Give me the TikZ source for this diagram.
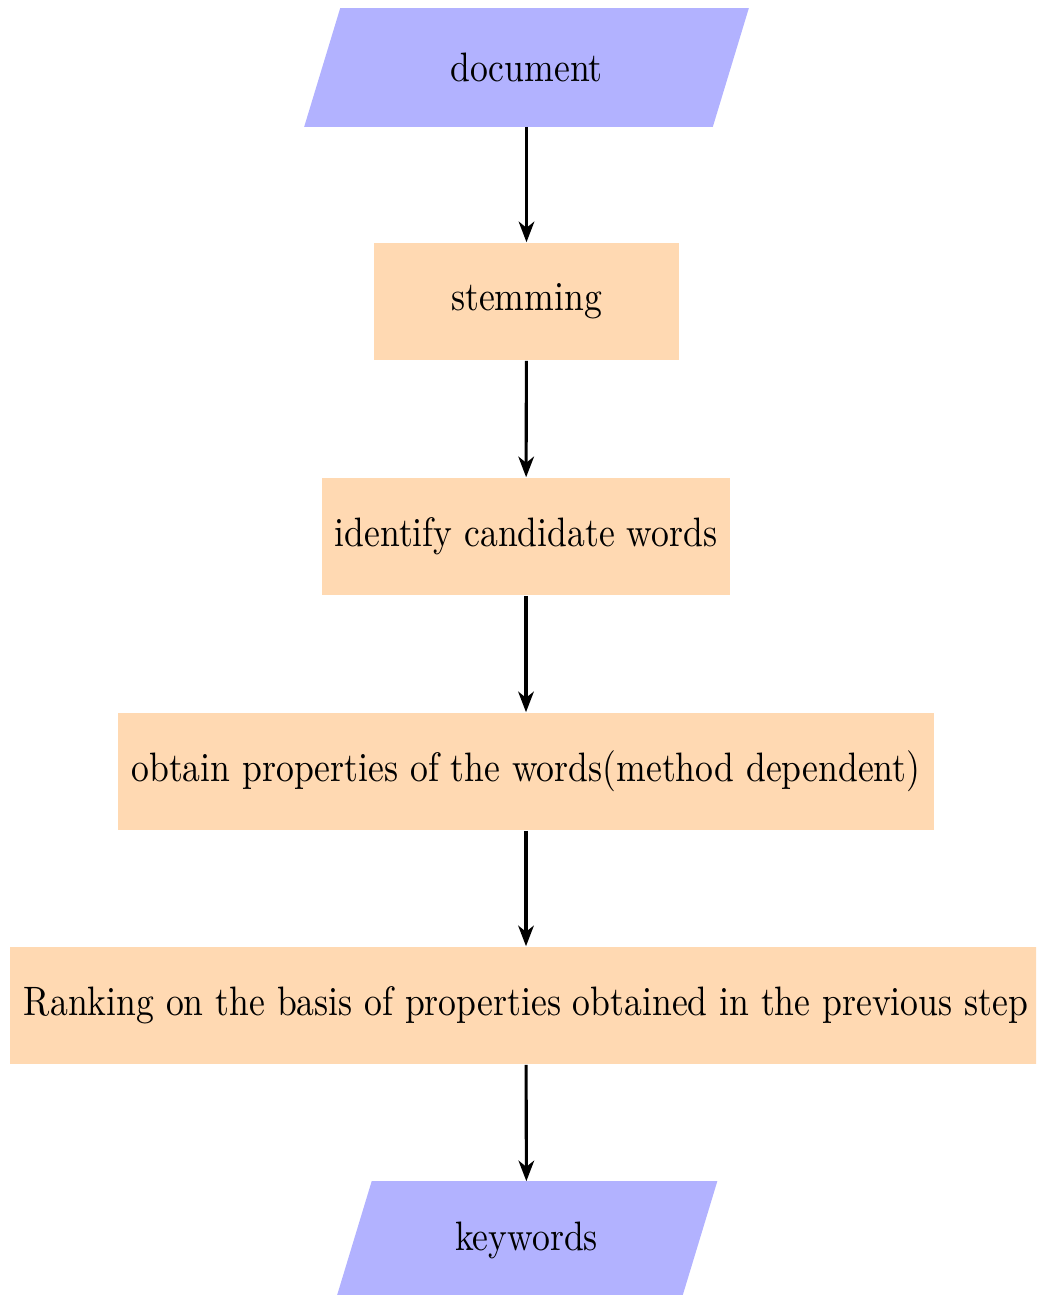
\documentclass[tikz,border=0pt]{standalone}
\usepackage{graphicx}
\usetikzlibrary{arrows.meta,backgrounds}
\newcommand{\hsq}[1]{\scalebox{0.867}[1]{#1}}
\begin{document}
\begin{tikzpicture}[x=0.2432pt,y=-0.2432pt,
  iobox/.style={rectangle, minimum height=1cm, inner sep=0pt, text=black},
  iofill/.style={fill=blue!30},
  procbox/.style={rectangle, fill=orange!30, minimum height=1cm, inner sep=0pt, text=black},
  flow/.style={draw=black, line width=0.75pt, -{Stealth[length=5pt,width=3.8pt,inset=1.5pt]}}]
\useasboundingbox (0,0) rectangle (1036,1295);
\clip (0,0) rectangle (1036,1295);
\node[iobox, minimum width=407*0.2432pt] (doc) at (526.5,67.5) {\hsq{document}};
\node[procbox, minimum width=305*0.2432pt] (stem) at (526.5,301.5) {\hsq{stemming}};
\node[procbox, minimum width=408*0.2432pt] (ident) at (526,536.5) {\hsq{identify candidate words}};
\node[procbox, minimum width=816*0.2432pt] (obt) at (526,771.5) {\hsq{obtain properties of the words(method dependent)}};
\node[procbox, minimum width=1032*0.2432pt] (rank) at (526,1005.5) {\hsq{Ranking on the basis of properties obtained in the previous step}};
\node[iobox, minimum width=344*0.2432pt] (kw) at (526.5,1240.5) {\hsq{keywords}};
\begin{pgfonlayer}{background}
\fill[iofill] ([xshift=-18*0.2432pt]doc.south west) -- ([xshift=-18*0.2432pt]doc.south east)
  -- ([xshift=18*0.2432pt]doc.north east) -- ([xshift=18*0.2432pt]doc.north west) -- cycle;
\fill[iofill] ([xshift=-18*0.2432pt]kw.south west) -- ([xshift=-18*0.2432pt]kw.south east)
  -- ([xshift=18*0.2432pt]kw.north east) -- ([xshift=18*0.2432pt]kw.north west) -- cycle;
\end{pgfonlayer}
\draw[flow] (doc) -- (stem);
\draw[flow] (stem) -- (ident);
\draw[flow] (ident) -- (obt);
\draw[flow] (obt) -- (rank);
\draw[flow] (rank) -- (kw);
\end{tikzpicture}
\end{document}
